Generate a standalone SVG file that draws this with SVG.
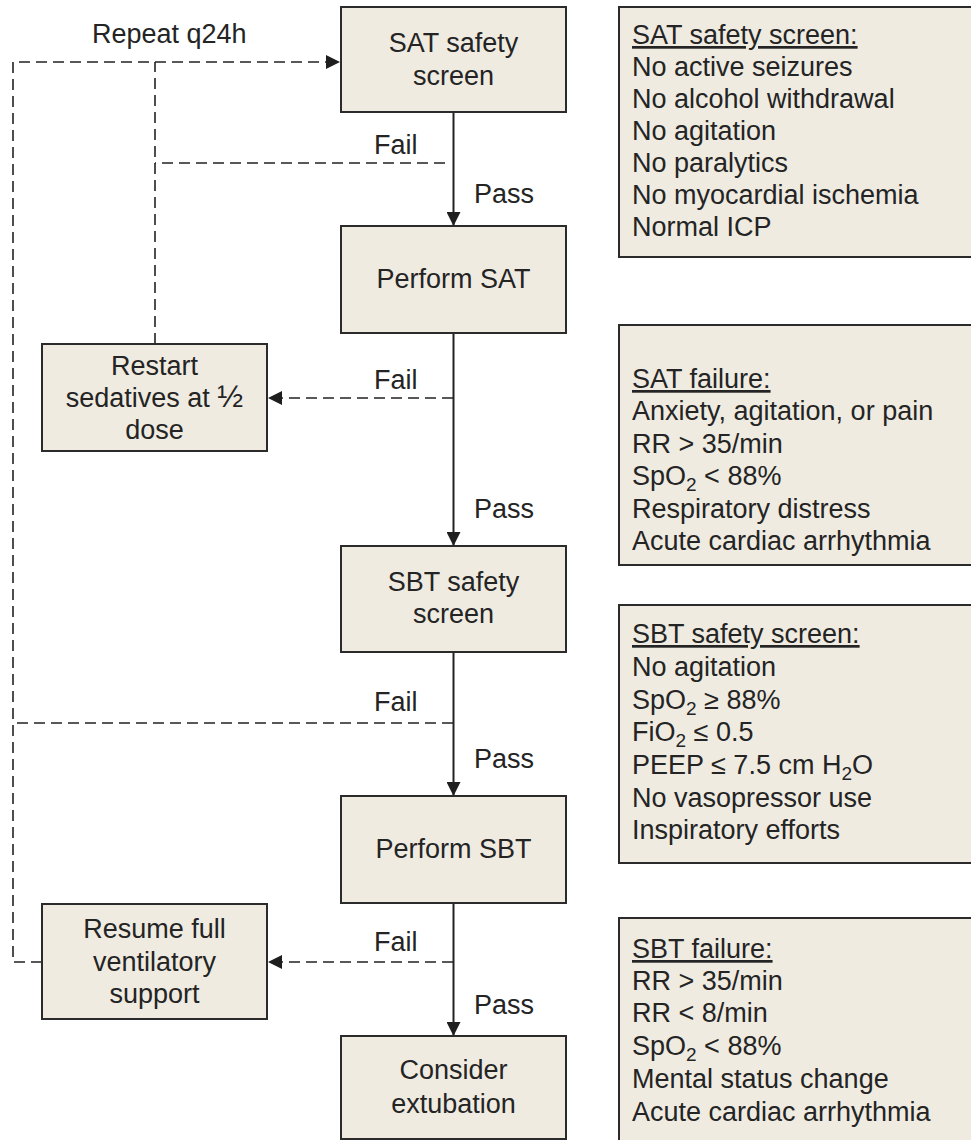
<svg xmlns="http://www.w3.org/2000/svg" width="971" height="1140" viewBox="0 0 971 1140">
  <defs>
    <style>
      .box { fill: #efebe1; stroke: #2b2b2b; stroke-width: 2; }
      .t { font-family: "Liberation Sans", Arial, Helvetica, sans-serif; font-size: 27px; fill: #242424; }
      .c { text-anchor: middle; }
      .u { text-decoration: underline; }
      .sub { font-size: 19px; }
      .solid { stroke: #222; stroke-width: 2; fill: none; }
      .dash { stroke: #222; stroke-width: 1.6; fill: none; stroke-dasharray: 11 6; }
    </style>
    <marker id="arrow" viewBox="0 0 14 14" refX="14" refY="7" markerWidth="14" markerHeight="14" markerUnits="userSpaceOnUse" orient="auto">
      <path d="M0,0 L14,7 L0,14 Z" fill="#1e1e1e"/>
    </marker>
  </defs>
  <rect width="971" height="1140" fill="#ffffff"/>

  <!-- connectors -->
  <g id="connectors">
    <!-- pass arrows down the main column -->
    <line class="solid" x1="453.5" y1="112" x2="453.5" y2="226" marker-end="url(#arrow)"/>
    <line class="solid" x1="453.5" y1="333" x2="453.5" y2="546" marker-end="url(#arrow)"/>
    <line class="solid" x1="453.5" y1="652" x2="453.5" y2="796" marker-end="url(#arrow)"/>
    <line class="solid" x1="453.5" y1="903" x2="453.5" y2="1036" marker-end="url(#arrow)"/>
    <!-- fail branches -->
    <line class="dash" x1="445" y1="163" x2="155" y2="163"/>
    <line class="dash" x1="453" y1="398" x2="268" y2="398" marker-end="url(#arrow)"/>
    <line class="dash" x1="453" y1="723" x2="13" y2="723"/>
    <line class="dash" x1="453" y1="962" x2="268" y2="962" marker-end="url(#arrow)"/>
    <!-- repeat loops back to the SAT safety screen -->
    <line class="dash" x1="155" y1="344" x2="155" y2="62"/>
    <path class="dash" d="M42,962 H13 V62 H340" marker-end="url(#arrow)"/>

    <text class="t" x="92" y="43">Repeat q24h</text>
    <text class="t" x="374" y="154">Fail</text>
    <text class="t" x="474" y="203">Pass</text>
    <text class="t" x="374" y="389">Fail</text>
    <text class="t" x="474" y="518">Pass</text>
    <text class="t" x="374" y="711">Fail</text>
    <text class="t" x="474" y="768">Pass</text>
    <text class="t" x="374" y="951">Fail</text>
    <text class="t" x="474" y="1014">Pass</text>
  </g>

  <!-- main column -->
  <g id="sat-screen">
    <rect class="box" x="341" y="7" width="225" height="105"/>
    <text class="t c" x="453.5" y="52">SAT safety</text>
    <text class="t c" x="453.5" y="85">screen</text>
  </g>
  <g id="perform-sat">
    <rect class="box" x="341" y="226" width="225" height="107"/>
    <text class="t c" x="453.5" y="288">Perform SAT</text>
  </g>
  <g id="sbt-screen">
    <rect class="box" x="341" y="546" width="225" height="106"/>
    <text class="t c" x="453.5" y="591">SBT safety</text>
    <text class="t c" x="453.5" y="623">screen</text>
  </g>
  <g id="perform-sbt">
    <rect class="box" x="341" y="796" width="225" height="107"/>
    <text class="t c" x="453.5" y="858">Perform SBT</text>
  </g>
  <g id="extubation">
    <rect class="box" x="341" y="1036" width="225" height="103"/>
    <text class="t c" x="453.5" y="1079">Consider</text>
    <text class="t c" x="453.5" y="1113">extubation</text>
  </g>

  <!-- fallback actions -->
  <g id="restart-sedatives">
    <rect class="box" x="42" y="344" width="225" height="107"/>
    <text class="t c" x="154.5" y="375">Restart</text>
    <text class="t c" x="154.5" y="407">sedatives at <tspan font-size="31">½</tspan></text>
    <text class="t c" x="154.5" y="439">dose</text>
  </g>
  <g id="resume-ventilation">
    <rect class="box" x="42" y="904" width="225" height="115"/>
    <text class="t c" x="154.5" y="938">Resume full</text>
    <text class="t c" x="154.5" y="971">ventilatory</text>
    <text class="t c" x="154.5" y="1003">support</text>
  </g>

  <!-- criteria panels -->
  <g id="sat-screen-criteria">
    <rect class="box" x="619" y="7" width="400" height="250"/>
    <text class="t u" x="632" y="44">SAT safety screen:</text>
    <text class="t" x="632" y="76">No active seizures</text>
    <text class="t" x="632" y="108">No alcohol withdrawal</text>
    <text class="t" x="632" y="140">No agitation</text>
    <text class="t" x="632" y="172">No paralytics</text>
    <text class="t" x="632" y="204">No myocardial ischemia</text>
    <text class="t" x="632" y="236">Normal ICP</text>
  </g>
  <g id="sat-failure-criteria">
    <rect class="box" x="619" y="325" width="400" height="240"/>
    <text class="t u" x="632" y="388">SAT failure:</text>
    <text class="t" x="632" y="420">Anxiety, agitation, or pain</text>
    <text class="t" x="632" y="453">RR &gt; 35/min</text>
    <text class="t" x="632" y="485">SpO<tspan class="sub" dy="6">2</tspan><tspan dy="-6"> &lt; 88%</tspan></text>
    <text class="t" x="632" y="518">Respiratory distress</text>
    <text class="t" x="632" y="550">Acute cardiac arrhythmia</text>
  </g>
  <g id="sbt-screen-criteria">
    <rect class="box" x="619" y="605" width="400" height="258"/>
    <text class="t u" x="632" y="643">SBT safety screen:</text>
    <text class="t" x="632" y="676">No agitation</text>
    <text class="t" x="632" y="709">SpO<tspan class="sub" dy="6">2</tspan><tspan dy="-6"> ≥ 88%</tspan></text>
    <text class="t" x="632" y="741">FiO<tspan class="sub" dy="6">2</tspan><tspan dy="-6"> ≤ 0.5</tspan></text>
    <text class="t" x="632" y="774">PEEP ≤ 7.5 cm H<tspan class="sub" dy="6">2</tspan><tspan dy="-6">O</tspan></text>
    <text class="t" x="632" y="807">No vasopressor use</text>
    <text class="t" x="632" y="839">Inspiratory efforts</text>
  </g>
  <g id="sbt-failure-criteria">
    <rect class="box" x="619" y="918" width="400" height="260"/>
    <text class="t u" x="632" y="958">SBT failure:</text>
    <text class="t" x="632" y="990">RR &gt; 35/min</text>
    <text class="t" x="632" y="1022">RR &lt; 8/min</text>
    <text class="t" x="632" y="1055">SpO<tspan class="sub" dy="6">2</tspan><tspan dy="-6"> &lt; 88%</tspan></text>
    <text class="t" x="632" y="1088">Mental status change</text>
    <text class="t" x="632" y="1121">Acute cardiac arrhythmia</text>
  </g>
</svg>
